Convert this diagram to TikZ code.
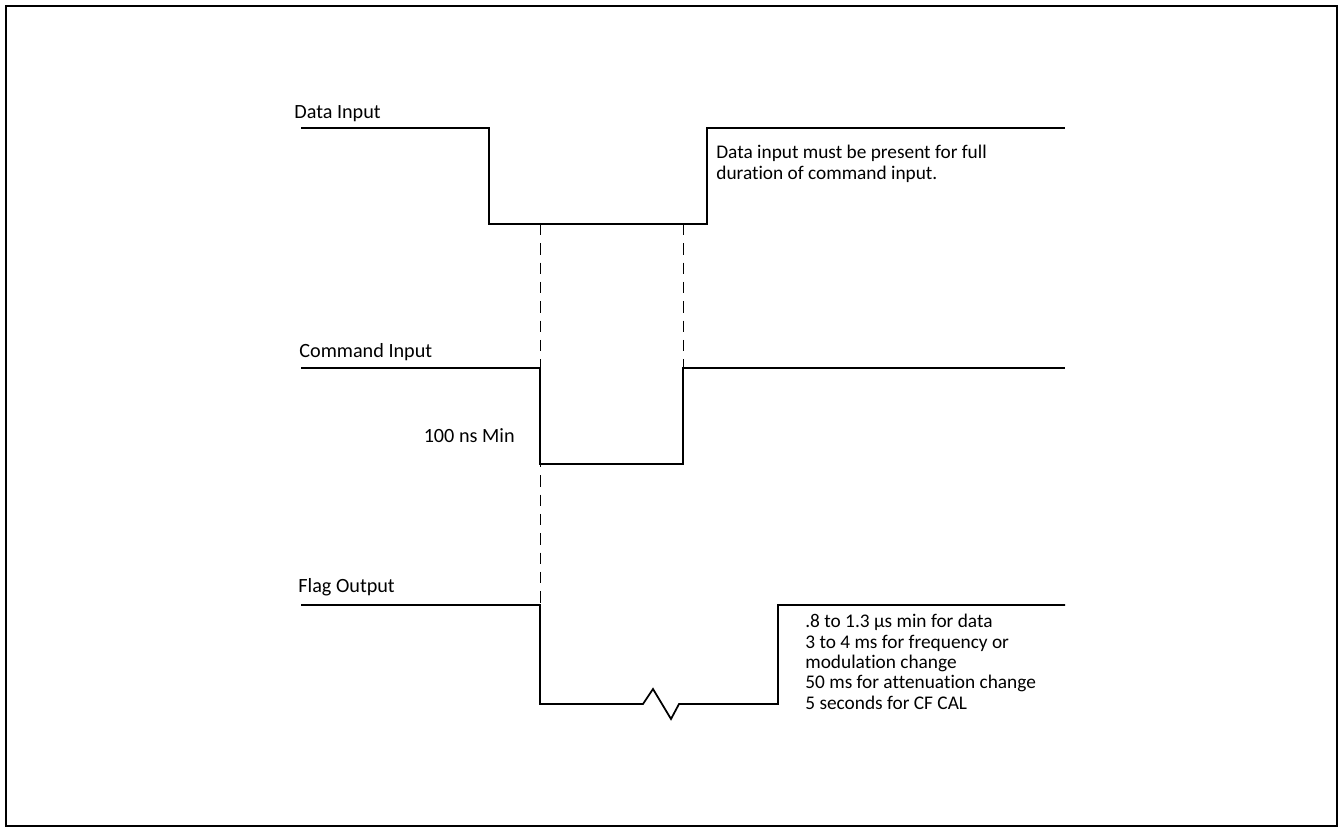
\documentclass[tikz,border=0pt]{standalone}
\usepackage{fontspec}
\setmainfont{Carlito}[Ligatures={NoCommon,NoRequired}]
\usetikzlibrary{positioning}
\tikzstyle{wave} = [line width=1pt, line join=miter]
\tikzstyle{guide} = [line width=0.5pt, dash pattern=on 6.5pt off 4.5pt]
\tikzstyle{siglabel} = [anchor=base west, inner sep=0pt, font=\fontsize{11.5}{13}\selectfont]
\tikzstyle{notetext} = [anchor=north west, inner sep=0pt, align=left, font=\fontsize{11}{11.6}\selectfont]

\begin{document}
\begin{tikzpicture}[x=0.02cm, y=-0.02cm]
    % Frame
    \useasboundingbox (0,0) rectangle (1341,830);
    \draw[line width=1.6pt] (6,6) rectangle (1337,826);

    % Data input waveform
    \coordinate (d0) at (301,128);
    \coordinate (d1) at (489,128);
    \coordinate (d2) at (489,224);
    \coordinate (d3) at (707,224);
    \coordinate (d4) at (707,128);
    \coordinate (d5) at (1065,128);
    \node[siglabel] (datalbl) at (294,119) {Data Input};
    \draw[wave] (d0) -- (d1) -- (d2) -- (d3) -- (d4) -- (d5);
    \node[notetext] (datanote) at (716,145) {Data input must be present for full\\duration of command input.};

    % Command input waveform
    \coordinate (c0) at (301,368);
    \coordinate (c1) at (540,368);
    \coordinate (c2) at (540,464);
    \coordinate (c3) at (683,464);
    \coordinate (c4) at (683,368);
    \coordinate (c5) at (1065,368);
    \node[siglabel] (cmdlbl) at (299,358) {Command Input};
    \draw[wave] (c0) -- (c1) -- (c2) -- (c3) -- (c4) -- (c5);
    \node[siglabel, anchor=base east] (minlbl) at (515,443) {100 ns Min};

    % Flag output waveform
    \coordinate (f0) at (301,605);
    \coordinate (f1) at (540,605);
    \coordinate (f2) at (540,704);
    \coordinate (f3) at (643,704);
    \coordinate (f4) at (653,689);
    \coordinate (f5) at (671,719);
    \coordinate (f6) at (679,704);
    \coordinate (f7) at (778,704);
    \coordinate (f8) at (778,605);
    \coordinate (f9) at (1065,605);
    \node[siglabel] (flaglbl) at (298,592) {Flag Output};
    \draw[wave] (f0) -- (f1) -- (f2) -- (f3) -- (f4) -- (f5) -- (f6) -- (f7) -- (f8) -- (f9);
    \node[notetext] (flagnote) at (805,614) {.8 to 1.3 µs min for data\\3 to 4 ms for frequency or\\modulation change\\50 ms for attenuation change\\5 seconds for CF CAL};

    % Dashed guides
    \coordinate (g1) at (540,224);
    \coordinate (g2) at (683,224);
    \draw[guide] (g1) -- (f1);
    \draw[guide] (g2) -- (c4);
\end{tikzpicture}
\end{document}
